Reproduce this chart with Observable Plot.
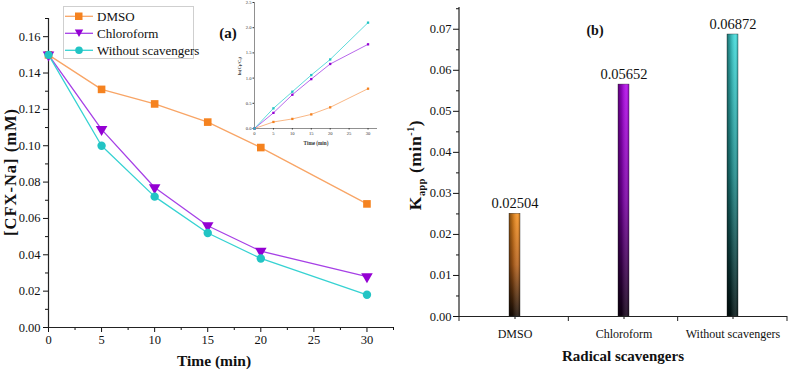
<!DOCTYPE html>
<html>
<head>
<meta charset="utf-8">
<script src="https://cdn.jsdelivr.net/npm/d3@7"></script>
<script src="https://cdn.jsdelivr.net/npm/@observablehq/plot@0.6"></script>
<style>
  body { margin: 0; background: #fff; }
  #fig { position: relative; width: 789px; height: 371px; overflow: hidden; font-family: "Liberation Serif", "Times New Roman", serif; color: #111; }
  #fig > * { position: absolute; }
  .rot { transform: translate(-50%, -50%) rotate(-90deg); white-space: nowrap; }
  .ctr { transform: translate(-50%, -50%); white-space: nowrap; }
  .legend { border: 1px solid #cfcfcf; background: #fff; box-sizing: border-box; padding-top: 1px; }
  .legend .row { display: flex; align-items: center; height: 17px; font-size: 13px; white-space: nowrap; }
  .legend svg { margin: 0 4px 0 1px; flex: none; }
</style>
</head>
<body>
<div id="fig"></div>
<script>
// ---- data -----------------------------------------------------------------
const times = [0, 5, 10, 15, 20, 30];
const scavengers = ["DMSO", "Chloroform", "Without scavengers"];

// [CFX-Na] (mM) vs time
const concDMSO = [0.150, 0.131, 0.123, 0.113, 0.099, 0.068];
const concChloroform = [0.150, 0.109, 0.077, 0.056, 0.042, 0.028];
const concWithout = [0.150, 0.100, 0.072, 0.052, 0.038, 0.018];

// ln(C0/Ct) vs time (inset)
const lnDMSO = [0, 0.13, 0.19, 0.28, 0.42, 0.79];
const lnChloroform = [0, 0.31, 0.67, 0.98, 1.28, 1.67];
const lnWithout = [0, 0.40, 0.73, 1.06, 1.37, 2.10];

// apparent rate constants (min^-1)
const kapp = [0.02504, 0.05652, 0.06872];

// tick values
const timeTicks = [0, 5, 10, 15, 20, 25, 30];
const timeMinor = [2.5, 7.5, 12.5, 17.5, 22.5, 27.5, 32.5];
const concTicks = [0, 0.02, 0.04, 0.06, 0.08, 0.10, 0.12, 0.14, 0.16];
const concMinor = [0.01, 0.03, 0.05, 0.07, 0.09, 0.11, 0.13, 0.15, 0.17];
const lnTicks = [0, 0.5, 1.0, 1.5, 2.0, 2.5];
const kTicks = [0, 0.01, 0.02, 0.03, 0.04, 0.05, 0.06, 0.07];
const kMinor = [0.005, 0.015, 0.025, 0.035, 0.045, 0.055, 0.065, 0.075];

// ---- styling ----------------------------------------------------------------
const series = [
  {name: "DMSO", conc: concDMSO, ln: lnDMSO, line: "#f8a566", mark: "#f5821f", symbol: "square", rotate: 0},
  {name: "Chloroform", conc: concChloroform, ln: lnChloroform, line: "#a640e6", mark: "#9400d3", symbol: "triangle", rotate: 180},
  {name: "Without scavengers", conc: concWithout, ln: lnWithout, line: "#36d2d2", mark: "#22c4c4", symbol: "circle", rotate: 0}
];
const barTop = ["#f8921f", "#b406ec", "#40dcdc"];
const barMid = ["#b8621a", "#7a00a4", "#1f8c8c"];
const barBot = ["#1a0e06", "#120016", "#031414"];

const serif = "'Liberation Serif', 'Times New Roman', serif";
const fig = document.getElementById("fig");

function place(el, left, top) {
  el.style.left = left + "px";
  el.style.top = top + "px";
  fig.appendChild(el);
  return el;
}
function label(html, x, y, css, cls) {
  const d = document.createElement("div");
  d.className = cls || "ctr";
  d.innerHTML = html;
  d.style.cssText += css;
  return place(d, x, y);
}

// ---- (a) concentration vs time ---------------------------------------------
const concRows = series.map(s => times.map((t, i) => ({t, c: s.conc[i]})));
const lnRows = series.map(s => times.map((t, i) => ({t, v: s.ln[i]})));

const left = Plot.plot({
  width: 400, height: 371,
  marginLeft: 48, marginRight: 7, marginTop: 18, marginBottom: 44,
  x: {domain: [0, 32.5]},
  y: {domain: [0, 0.17]},
  style: {fontFamily: serif, fontSize: "12.5px", background: "transparent", color: "#111"},
  marks: [
    Plot.axisX({ticks: timeTicks, tickSize: 5, tickPadding: 3, label: null, tickFormat: d3.format("d")}),
    Plot.axisX({ticks: timeMinor, tickSize: 3, text: null, label: null}),
    Plot.axisY({ticks: concTicks, tickSize: 5, tickPadding: 3, label: null, tickFormat: d3.format(".2f")}),
    Plot.axisY({ticks: concMinor, tickSize: 3, text: null, label: null}),
    Plot.ruleX([0], {stroke: "#222", strokeWidth: 1.2}),
    Plot.ruleY([0], {stroke: "#222", strokeWidth: 1.2}),
    ...series.map((s, k) => Plot.line(concRows[k], {x: "t", y: "c", stroke: s.line, strokeWidth: 1.3})),
    ...series.map((s, k) => Plot.dot(concRows[k], {
      x: "t", y: "c", symbol: s.symbol, rotate: s.rotate, fill: s.mark, stroke: "none",
      r: s.symbol === "circle" ? 4.2 : 4.3
    }))
  ]
});
place(left, 0, 0);

// inset: ln(C0/Ct) vs time
const inset = Plot.plot({
  width: 155, height: 150,
  marginLeft: 24, marginRight: 8, marginTop: 2, marginBottom: 22,
  x: {domain: [0, 32.5]},
  y: {domain: [0, 2.5]},
  style: {fontFamily: serif, fontSize: "4.6px", background: "transparent", color: "#333"},
  marks: [
    Plot.axisX({ticks: timeTicks, tickSize: 1.5, tickPadding: 1.5, label: null, tickFormat: d3.format("d")}),
    Plot.axisY({ticks: lnTicks, tickSize: 1.5, tickPadding: 1.5, label: null, tickFormat: d3.format(".1f")}),
    Plot.ruleX([0], {stroke: "#444", strokeWidth: 0.6}),
    Plot.ruleY([0], {stroke: "#444", strokeWidth: 0.6}),
    ...series.map((s, k) => Plot.line(lnRows[k], {x: "t", y: "v", stroke: s.line, strokeWidth: 0.8})),
    ...series.map((s, k) => Plot.dot(lnRows[k], {x: "t", y: "v", symbol: "square", fill: s.mark, r: 1.3}))
  ]
});
place(inset, 230, 0);
label("ln(C<sub style='font-size:3.5px'>0</sub>/C<sub style='font-size:3.5px'>t</sub>)", 240, 66,
  "font-size:4.8px;font-weight:bold;color:#333;", "rot");
label("Time (min)", 316, 143, "font-size:5.2px;font-weight:bold;color:#333;");

// legend
const legend = document.createElement("div");
legend.className = "legend";
legend.style.width = "131px";
legend.style.height = "53px";
for (const s of series) {
  const row = document.createElement("div");
  row.className = "row";
  let sym;
  if (s.symbol === "square") sym = `<rect x="10" y="2.5" width="7.5" height="7.5" fill="${s.mark}"/>`;
  else if (s.symbol === "triangle") sym = `<path d="M9.8,2.5 L18.2,2.5 L14,10 Z" fill="${s.mark}"/>`;
  else sym = `<circle cx="14" cy="6.3" r="3.8" fill="${s.mark}"/>`;
  row.innerHTML = `<svg width="28" height="13"><line x1="0" x2="28" y1="6.3" y2="6.3" stroke="${s.line}" stroke-width="1.3"/>${sym}</svg><span>${s.name}</span>`;
  legend.appendChild(row);
}
place(legend, 63, 6);

label("(a)", 228, 33, "font-size:15px;font-weight:bold;");
label("[CFX-Na] (mM)", 11, 172, "font-size:16.5px;font-weight:bold;letter-spacing:1px;", "rot");
label("Time (min)", 214, 361, "font-size:15.5px;font-weight:bold;");

// ---- (b) apparent rate constants -------------------------------------------
const bars = scavengers.map((s, i) => ({s, k: kapp[i], i}));

function barGradients() {
  const ns = "http://www.w3.org/2000/svg";
  const defs = document.createElementNS(ns, "defs");
  const grad = (id, x2, y2, stops) => {
    const g = document.createElementNS(ns, "linearGradient");
    g.setAttribute("id", id);
    g.setAttribute("x1", "0"); g.setAttribute("y1", "0");
    g.setAttribute("x2", x2); g.setAttribute("y2", y2);
    for (const [o, c, a] of stops) {
      const st = document.createElementNS(ns, "stop");
      st.setAttribute("offset", o);
      st.setAttribute("stop-color", c);
      st.setAttribute("stop-opacity", a);
      g.appendChild(st);
    }
    defs.appendChild(g);
  };
  scavengers.forEach((_, i) => grad("kbar" + i, "0", "1",
    [["0", barTop[i], 1], ["0.5", barMid[i], 1], ["1", barBot[i], 1]]));
  grad("kshade", "1", "0",
    [["0", "#000", 0.5], ["0.35", "#000", 0.2], ["0.75", "#fff", 0.12], ["1", "#000", 0.25]]);
  return defs;
}

// left axis line and the tick marks on the category boundaries
function frameAndBoundaries(index, scales, values, dims) {
  const ns = "http://www.w3.org/2000/svg";
  const g = document.createElementNS(ns, "g");
  g.setAttribute("stroke", "#222");
  const x0 = dims.marginLeft, x1 = dims.width - dims.marginRight;
  const yTop = dims.marginTop, y0 = dims.height - dims.marginBottom;
  const line = (a, b, c, d, w) => {
    const l = document.createElementNS(ns, "line");
    l.setAttribute("x1", a); l.setAttribute("y1", b);
    l.setAttribute("x2", c); l.setAttribute("y2", d);
    l.setAttribute("stroke-width", w);
    g.appendChild(l);
  };
  line(x0, yTop, x0, y0, 1.2);
  for (let j = 0; j <= scavengers.length; j++) {
    const x = x0 + (x1 - x0) * j / scavengers.length;
    line(x, y0, x, y0 + 5, 1);
  }
  return g;
}

const right = Plot.plot({
  width: 389, height: 371,
  marginLeft: 59, marginRight: 2, marginTop: 7, marginBottom: 55,
  x: {domain: scavengers, paddingInner: 0.9, paddingOuter: 0.45, align: 0.5},
  y: {domain: [0, 0.0753]},
  style: {fontFamily: serif, fontSize: "12.5px", background: "transparent", color: "#111"},
  marks: [
    barGradients,
    Plot.axisX({tickSize: 3, tickPadding: 10, label: null, fontSize: 12}),
    Plot.axisY({ticks: kTicks, tickSize: 6, tickPadding: 2, label: null, tickFormat: d3.format(".2f")}),
    Plot.axisY({ticks: kMinor, tickSize: 3, text: null, label: null}),
    Plot.barY(bars, {x: "s", y: "k", fill: d => `url(#kbar${d.i})`, stroke: "#2a2a2a", strokeWidth: 0.4}),
    Plot.barY(bars, {x: "s", y: "k", fill: "url(#kshade)"}),
    frameAndBoundaries,
    Plot.ruleY([0], {stroke: "#222", strokeWidth: 1.2}),
    Plot.text(bars, {x: "s", y: "k", text: d => String(d.k), dy: -10, fontSize: 14.5, fill: "#111"})
  ]
});
place(right, 400, 0);

label("(b)", 595, 31, "font-size:14px;font-weight:bold;");
label("K<sub style='font-size:10px'>app</sub> (min<sup style='font-size:10px'>-1</sup>)", 416, 165,
  "font-size:17.5px;font-weight:bold;letter-spacing:0.6px;", "rot");
label("Radical scavengers", 623, 356, "font-size:15px;font-weight:bold;");
</script>
</body>
</html>
